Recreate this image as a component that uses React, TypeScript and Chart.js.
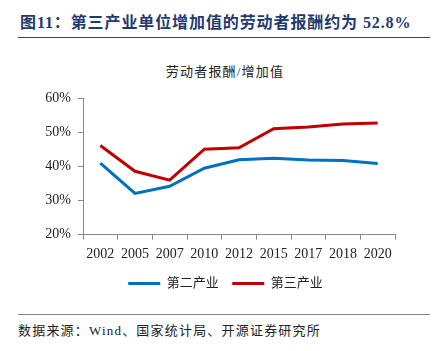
import React, { useEffect, useRef } from "react";
import { Chart, registerables } from "chart.js";

Chart.register(...registerables);

const categories = ["2002", "2005", "2007", "2010", "2012", "2015", "2017", "2018", "2020"];
const secondaryIndustry = [41.0, 32.1, 34.2, 39.5, 42.0, 42.4, 41.9, 41.8, 40.9];
const tertiaryIndustry = [46.2, 38.6, 36.0, 45.1, 45.5, 51.1, 51.6, 52.5, 52.8];
const seriesNames = ["第二产业", "第三产业"];
const yMin = 20;
const yMax = 60;
const yStep = 10;

const titleText = "图11：第三产业单位增加值的劳动者报酬约为 52.8%";
const chartSubtitle = "劳动者报酬/增加值";
const sourceText = "数据来源：Wind、国家统计局、开源证券研究所";

const SERIF = "'Liberation Serif', 'Times New Roman', 'Noto Sans CJK SC', serif";

const legendShift = {
  id: "legendShift",
  afterLayout(chart: any) {
    const lg = chart.legend;
    if (lg) {
      lg.left += 28;
      lg.right += 28;
      lg.top -= 5;
      lg.bottom -= 5;
    }
  },
};

export default function App() {
  const canvasRef = useRef<HTMLCanvasElement | null>(null);

  useEffect(() => {
    const canvas = canvasRef.current;
    if (!canvas) return;
    const chart = new Chart(canvas, {
      type: "line",
      data: {
        labels: categories,
        datasets: [
          {
            label: seriesNames[0],
            data: secondaryIndustry,
            borderColor: "#0070c0",
            backgroundColor: "#0070c0",
            borderWidth: 3,
            pointRadius: 0,
            tension: 0,
          },
          {
            label: seriesNames[1],
            data: tertiaryIndustry,
            borderColor: "#c00000",
            backgroundColor: "#c00000",
            borderWidth: 3,
            pointRadius: 0,
            tension: 0,
          },
        ],
      },
      plugins: [legendShift],
      options: {
        animation: false,
        responsive: false,
        maintainAspectRatio: false,
        devicePixelRatio: 1,
        layout: { padding: { left: 0, right: 37, top: 2, bottom: 0 } },
        plugins: {
          tooltip: { enabled: false },
          title: { display: false },
          legend: {
            display: true,
            position: "bottom",
            labels: {
              usePointStyle: true,
              pointStyle: "line",
              pointStyleWidth: 32,
              color: "#222",
              padding: 13.5,
              font: { family: SERIF, size: 13 },
            },
          },
        },
        scales: {
          x: {
            offset: true,
            grid: {
              display: true,
              drawOnChartArea: false,
              drawTicks: true,
              tickLength: 5,
              color: "#888",
              offset: true,
            },
            border: { display: true, color: "#888", width: 1 },
            ticks: {
              color: "#222",
              padding: 6,
              maxRotation: 0,
              autoSkip: false,
              font: { family: SERIF, size: 14 },
            },
          },
          y: {
            min: yMin,
            max: yMax,
            afterFit: (scale: any) => {
              scale.width = 83;
            },
            grid: {
              display: true,
              drawOnChartArea: false,
              drawTicks: true,
              tickLength: 5,
              color: "#888",
            },
            border: { display: true, color: "#888", width: 1 },
            ticks: {
              stepSize: yStep,
              color: "#222",
              padding: 7,
              font: { family: SERIF, size: 14 },
              callback: (v: any) => `${v}%`,
            },
          },
        },
      },
    });
    return () => chart.destroy();
  }, []);

  return (
    <div
      style={{
        position: "absolute",
        left: 0,
        top: 0,
        width: 432,
        height: 351,
        background: "#fff",
        overflow: "hidden",
      }}
    >
      <div
        style={{
          position: "absolute",
          left: 20,
          top: 9,
          fontFamily: SERIF,
          fontWeight: "bold",
          fontSize: 16,
          color: "#1f3a70",
          whiteSpace: "nowrap",
          letterSpacing: 0.9,
        }}
      >
        {titleText}
      </div>
      <div style={{ position: "absolute", left: 18, top: 37, width: 412, height: 1, background: "#444" }} />
      <div
        style={{
          position: "absolute",
          left: 0,
          width: 432,
          top: 61,
          textAlign: "center",
          paddingLeft: 18,
          boxSizing: "border-box",
          fontFamily: SERIF,
          fontSize: 13,
          color: "#222",
          letterSpacing: 1.2,
          whiteSpace: "nowrap",
        }}
      >
        {chartSubtitle}
      </div>
      <canvas
        ref={canvasRef}
        width={432}
        height={222}
        style={{ position: "absolute", left: 0, top: 83, width: 432, height: 222 }}
      />
      <div style={{ position: "absolute", left: 18, top: 314, width: 412, height: 1, background: "#888" }} />
      <div
        style={{
          position: "absolute",
          left: 18,
          top: 320,
          fontFamily: SERIF,
          fontSize: 13,
          color: "#222",
          letterSpacing: 1.2,
          whiteSpace: "nowrap",
        }}
      >
        {sourceText}
      </div>
    </div>
  );
}
